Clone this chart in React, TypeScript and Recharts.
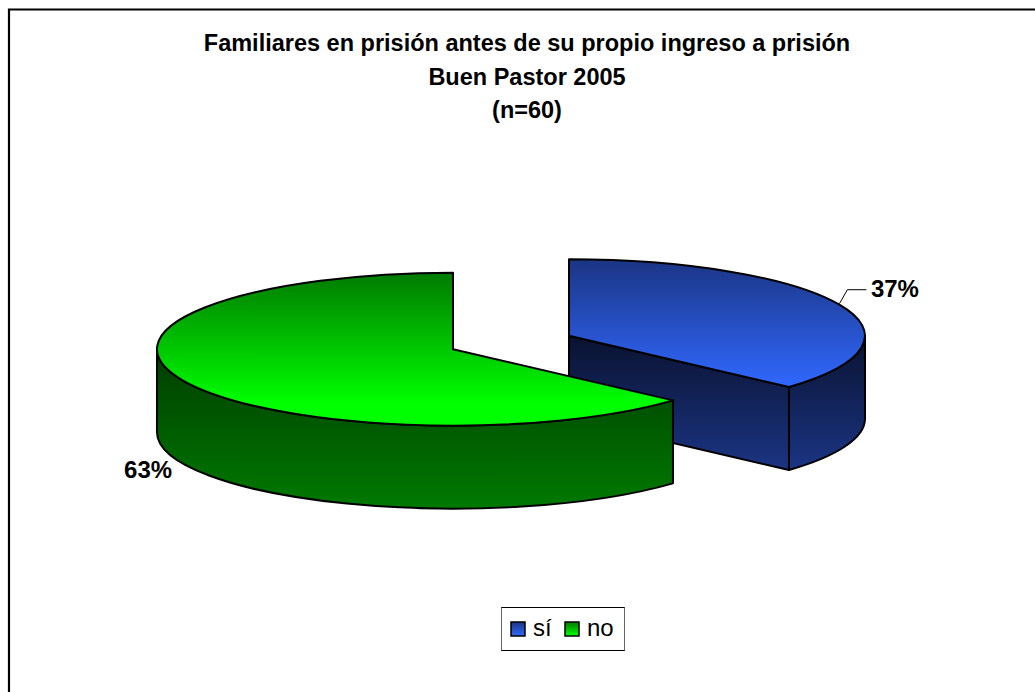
import React from "react";
import { PieChart, Pie, Legend } from "recharts";

const categories = ["sí", "no"];
const values = [22, 38];
const topGradients = ["topSi", "topNo"];
const wallGradients = ["wallSi", "wallNo"];
const swatchFills = ["url(#swatchSi)", "url(#swatchNo)"];
const titleLines = [
  "Familiares en prisión antes de su propio ingreso a prisión",
  "Buen Pastor 2005",
  "(n=60)",
];

const tableData = categories.map((name, i) => ({
  name,
  value: values[i],
  fill: swatchFills[i],
  topFill: `url(#${topGradients[i]})`,
  wallFill: `url(#${wallGradients[i]})`,
}));

const SQUASH = 0.2584;
const DEPTH = 83;
const EXPLODE = 63.5;
const RAD = Math.PI / 180;
const FONT = "'Liberation Sans', Arial, sans-serif";

function explodedCenter(cx: number, cy: number, midAngle: number) {
  return {
    x: cx + EXPLODE * Math.cos(midAngle * RAD),
    y: cy - EXPLODE * SQUASH * Math.sin(midAngle * RAD),
  };
}

function Slice3D(props: any) {
  const { cx, cy, outerRadius, startAngle, endAngle, payload } = props;
  const mid = (startAngle + endAngle) / 2;
  const c = explodedCenter(cx, cy, mid);
  const rx = outerRadius;
  const ry = outerRadius * SQUASH;
  const pt = (a: number, dz = 0) => ({
    x: c.x + rx * Math.cos(a * RAD),
    y: c.y - ry * Math.sin(a * RAD) + dz,
  });
  const arc = (a0: number, a1: number, dz = 0) => {
    const e = pt(a1, dz);
    return `A${rx} ${ry} 0 ${Math.abs(a0 - a1) > 180 ? 1 : 0} ${a1 < a0 ? 1 : 0} ${e.x} ${e.y}`;
  };
  const s = pt(startAngle);
  const e = pt(endAngle);
  const top = `M${c.x} ${c.y}L${s.x} ${s.y}${arc(startAngle, endAngle)}Z`;

  // front-facing part of the rim: the lower half of the ellipse
  const lo = Math.max(endAngle, -180);
  const hi = Math.min(startAngle, 0);
  let wall = "";
  if (hi > lo) {
    const a = pt(hi);
    const b = pt(lo, DEPTH);
    wall = `M${a.x} ${a.y}${arc(hi, lo)}L${b.x} ${b.y}${arc(lo, hi, DEPTH)}Z`;
  }
  const face = (p: { x: number; y: number }) =>
    `M${c.x} ${c.y}L${p.x} ${p.y}L${p.x} ${p.y + DEPTH}L${c.x} ${c.y + DEPTH}Z`;
  const endVisible = Math.cos(endAngle * RAD) > 0.001;
  const startVisible = Math.cos(startAngle * RAD) < -0.001;
  const stroke = { stroke: "#000", strokeWidth: 2, strokeLinejoin: "round" as const };
  return (
    <g>
      {endVisible && <path d={face(e)} fill={payload.wallFill} {...stroke} />}
      {startVisible && <path d={face(s)} fill={payload.wallFill} {...stroke} />}
      {wall && <path d={wall} fill={payload.wallFill} {...stroke} />}
      <path d={top} fill={payload.topFill} {...stroke} />
    </g>
  );
}

function SliceLabel(props: any) {
  const { cx, cy, midAngle, outerRadius, percent } = props;
  const c = explodedCenter(cx, cy, midAngle);
  const rimX = c.x + outerRadius * Math.cos(midAngle * RAD);
  const rimY = c.y - outerRadius * SQUASH * Math.sin(midAngle * RAD);
  const txt = `${Math.round(percent * 100)}%`;
  const common = { fontFamily: FONT, fontWeight: 700, fontSize: 24, fill: "#000" };
  if (Math.cos(midAngle * RAD) > 0) {
    return (
      <g>
        <polyline
          points={`${rimX} ${rimY - 1} ${rimX + 8} ${rimY - 15} ${rimX + 27} ${rimY - 15}`}
          fill="none"
          stroke="#000"
          strokeWidth={1}
        />
        <text x={rimX + 31.5} y={rimY - 8} textAnchor="start" {...common}>
          {txt}
        </text>
      </g>
    );
  }
  return (
    <text x={rimX - 10.5} y={rimY + 97.5} textAnchor="end" {...common}>
      {txt}
    </text>
  );
}

function LegendBox({ payload }: any) {
  const items = payload || [];
  return (
    <div
      style={{
        boxSizing: "border-box",
        width: 124,
        height: 44,
        borderTop: "1.5px solid #000",
        borderBottom: "1.5px solid #000",
        borderLeft: "1.5px solid #666",
        borderRight: "1.5px solid #666",
        background: "#fff",
        position: "relative",
        fontFamily: FONT,
        fontSize: 24,
        color: "#000",
      }}
    >
      {items.map((it: any, i: number) => (
        <React.Fragment key={it.value}>
          <svg
            width={16}
            height={16}
            style={{ position: "absolute", left: 8 + i * 54, top: 12.5 }}
          >
            <rect x={1} y={1} width={14} height={14} fill={swatchFills[i]} stroke="#000" strokeWidth={1.5} />
          </svg>
          <span
            style={{
              position: "absolute",
              left: 31 + i * 54,
              top: 6,
              lineHeight: "28px",
            }}
          >
            {it.value}
          </span>
        </React.Fragment>
      ))}
    </div>
  );
}

export default function App() {
  return (
    <div style={{ position: "absolute", left: 0, top: 0, width: 1035, height: 692, overflow: "hidden", background: "#fff" }}>
      <PieChart width={1035} height={692} margin={{ top: 0, right: 0, bottom: 0, left: 0 }}>
        <defs>
          <linearGradient id="topSi" x1="0" y1="0" x2="0" y2="1">
            <stop offset="0" stopColor="#1b3584" />
            <stop offset="1" stopColor="#3068ff" />
          </linearGradient>
          <linearGradient id="topNo" x1="0" y1="0" x2="0" y2="1">
            <stop offset="0" stopColor="#007a00" />
            <stop offset="0.85" stopColor="#00ff00" />
            <stop offset="1" stopColor="#00ff00" />
          </linearGradient>
          <linearGradient id="wallSi" x1="0" y1="0" x2="0" y2="1">
            <stop offset="0" stopColor="#0a1230" />
            <stop offset="1" stopColor="#1b3584" />
          </linearGradient>
          <linearGradient id="wallNo" x1="0" y1="0" x2="0" y2="1">
            <stop offset="0" stopColor="#003d00" />
            <stop offset="1" stopColor="#007a00" />
          </linearGradient>
          <linearGradient id="swatchSi" x1="0" y1="0" x2="0" y2="1">
            <stop offset="0" stopColor="#1b3584" />
            <stop offset="1" stopColor="#3068ff" />
          </linearGradient>
          <linearGradient id="swatchNo" x1="0" y1="0" x2="0" y2="1">
            <stop offset="0" stopColor="#007a00" />
            <stop offset="1" stopColor="#00ff00" />
          </linearGradient>
        </defs>
        <path d="M9 692V9.5H1035" fill="none" stroke="#000" strokeWidth={2.2} />
        {titleLines.map((line, i) => (
          <text
            key={line}
            x={527}
            y={51 + i * 33.5}
            textAnchor="middle"
            fontFamily={FONT}
            fontWeight={700}
            fontSize={23.5}
            fill="#000"
          >
            {line}
          </text>
        ))}
        <Pie
          data={tableData}
          dataKey="value"
          nameKey="name"
          cx={511}
          cy={342.5}
          outerRadius={296}
          startAngle={90}
          endAngle={-270}
          stroke="none"
          isAnimationActive={false}
          shape={Slice3D}
          label={SliceLabel}
          labelLine={false}
        />
        <Legend
          content={<LegendBox />}
          layout="horizontal"
          itemSorter={null}
          wrapperStyle={{ position: "absolute", left: 501, top: 607, width: 124, height: 44, bottom: "auto" }}
        />
      </PieChart>
    </div>
  );
}
